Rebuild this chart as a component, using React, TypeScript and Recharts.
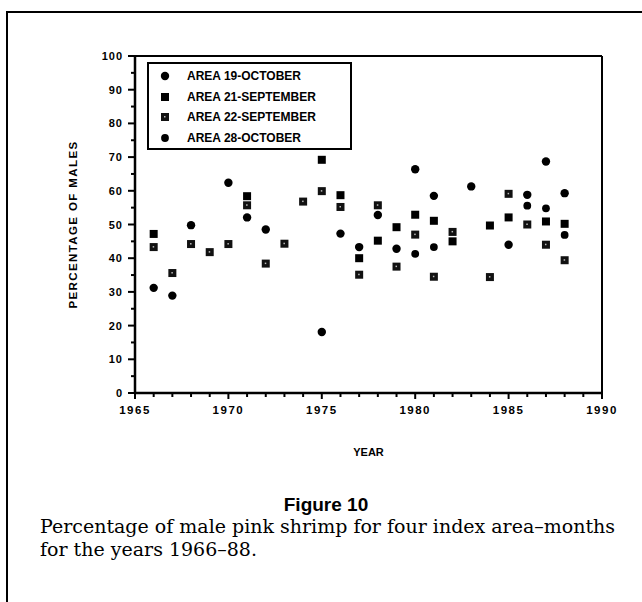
import {
  ScatterChart,
  Scatter,
  XAxis,
  YAxis,
  Legend,
  ReferenceLine,
  Label,
} from "recharts";

/* ===== data ===== */
const area19Years = [1966, 1967, 1968, 1970, 1971, 1972, 1975, 1976, 1977, 1978, 1979, 1980, 1981, 1983, 1985, 1986, 1987, 1988];
const area19Values = [31.2, 28.9, 49.8, 62.4, 52.1, 48.5, 18.1, 47.3, 43.3, 52.8, 42.8, 66.4, 58.5, 61.3, 44.0, 58.8, 68.7, 59.3];

const area21Years = [1966, 1971, 1975, 1976, 1977, 1978, 1979, 1980, 1981, 1982, 1984, 1985, 1987, 1988];
const area21Values = [47.2, 58.4, 69.2, 58.7, 40.0, 45.2, 49.2, 52.9, 51.1, 45.0, 49.7, 52.1, 50.9, 50.2];

const area22Years = [1966, 1967, 1968, 1969, 1970, 1971, 1972, 1973, 1974, 1975, 1976, 1977, 1978, 1979, 1980, 1981, 1982, 1984, 1985, 1986, 1987, 1988];
const area22Values = [43.3, 35.6, 44.2, 41.8, 44.2, 55.7, 38.4, 44.3, 56.8, 59.9, 55.2, 35.1, 55.7, 37.5, 47.0, 34.5, 47.8, 34.4, 59.1, 50.0, 44.0, 39.4];

const area28Years = [1980, 1981, 1986, 1987, 1988];
const area28Values = [41.3, 43.3, 55.6, 54.8, 46.9];

const yearTicks = Array.from({ length: 26 }, (_, i) => 1965 + i);
const pctTicks = Array.from({ length: 21 }, (_, i) => i * 5);

const toPoints = (years: number[], values: number[]) =>
  years.map((year, i) => ({ year, pct: values[i] }));

/* ===== symbols ===== */
const Dot = ({ cx, cy }: any) => <circle cx={cx} cy={cy} r={4.2} fill="#000" />;
const SmallDot = ({ cx, cy }: any) => <circle cx={cx} cy={cy} r={3.9} fill="#000" />;
const Box = ({ cx, cy }: any) => (
  <rect x={cx - 4} y={cy - 4} width={8} height={8} fill="#000" />
);
const HatchBox = ({ cx, cy }: any) => (
  <g>
    <rect x={cx - 4} y={cy - 4} width={8} height={8} fill="#111" />
    <rect x={cx - 1} y={cy - 1} width={1.5} height={1.5} fill="#bbb" />
  </g>
);

const series = [
  { name: "AREA 19-OCTOBER", data: toPoints(area19Years, area19Values), shape: Dot },
  { name: "AREA 21-SEPTEMBER", data: toPoints(area21Years, area21Values), shape: Box },
  { name: "AREA 22-SEPTEMBER", data: toPoints(area22Years, area22Values), shape: HatchBox },
  { name: "AREA 28-OCTOBER", data: toPoints(area28Years, area28Values), shape: SmallDot },
];

const FONT = "'Liberation Sans', Arial, sans-serif";

/* ===== ticks ===== */
const YearTick = ({ x, y, payload }: any) => {
  const major = payload.value % 5 === 0;
  return (
    <g>
      <line x1={x} x2={x} y1={y} y2={y + (major ? 6 : 4)} stroke="#000" strokeWidth={2} />
      {major && (
        <text x={x} y={y + 21} textAnchor="middle" fontFamily={FONT} fontWeight="bold"
          fontSize={11.5} letterSpacing={1.5} fill="#000">
          {payload.value}
        </text>
      )}
    </g>
  );
};

const PctTick = ({ x, y, payload }: any) => {
  const major = payload.value % 10 === 0;
  return (
    <g>
      <line x1={x - (major ? 7 : 4)} x2={x} y1={y} y2={y} stroke="#000" strokeWidth={2} />
      {major && (
        <text x={x - 12} y={y + 4} textAnchor="end" fontFamily={FONT} fontWeight="bold"
          fontSize={11} letterSpacing={1} fill="#000">
          {payload.value}
        </text>
      )}
    </g>
  );
};

/* ===== legend ===== */
const LegendBox = () => (
  <div style={{ border: "2px solid #000", width: 201, height: 84, position: "relative" }}>
    {series.map((s, i) => {
      const Shape = s.shape;
      return (
        <div key={s.name} style={{ position: "absolute", left: 0, top: 4 + i * 20.7, height: 16, display: "flex", alignItems: "center" }}>
          <svg width={36} height={16}>
            <Shape cx={16} cy={8} />
          </svg>
          <span style={{ fontFamily: FONT, fontWeight: "bold", fontSize: 12, marginLeft: 2, whiteSpace: "nowrap" }}>
            {s.name}
          </span>
        </div>
      );
    })}
  </div>
);

export default function App() {
  return (
    <div style={{ position: "absolute", left: 0, top: 0, width: 642, height: 602, background: "#fff", overflow: "hidden" }}>
      {/* outer figure frame */}
      <div style={{ position: "absolute", left: 6, top: 11, width: 640, height: 600, borderTop: "2px solid #000", borderLeft: "2px solid #000" }} />

      <ScatterChart width={642} height={602} margin={{ top: 56, right: 40, bottom: 139, left: 55 }}
        style={{ position: "absolute", left: 0, top: 0 }}>
        <XAxis
          dataKey="year"
          type="number"
          domain={[1965, 1990]}
          ticks={yearTicks}
          interval={0}
          height={70}
          tickSize={0}
          tickMargin={0}
          tickLine={false}
          tick={<YearTick />}
          axisLine={{ stroke: "#000", strokeWidth: 2.5 }}
        >
          <Label
            content={({ viewBox }: any) => (
              <text x={viewBox.x + viewBox.width / 2} y={viewBox.y + 63} textAnchor="middle"
                fontFamily={FONT} fontWeight="bold" fontSize={11} fill="#000">
                YEAR
              </text>
            )}
          />
        </XAxis>
        <YAxis
          dataKey="pct"
          type="number"
          domain={[0, 100]}
          ticks={pctTicks}
          interval={0}
          width={80}
          tickSize={0}
          tickMargin={0}
          tickLine={false}
          tick={<PctTick />}
          axisLine={{ stroke: "#000", strokeWidth: 2.5 }}
        >
          <Label
            content={({ viewBox }: any) => {
              const cx = viewBox.x + 22;
              const cy = viewBox.y + viewBox.height / 2;
              return (
                <text x={cx} y={cy} textAnchor="middle" transform={`rotate(-90 ${cx} ${cy})`}
                  fontFamily={FONT} fontWeight="bold" fontSize={11.5} letterSpacing={1.4} fill="#000">
                  PERCENTAGE OF MALES
                </text>
              );
            }}
          />
        </YAxis>
        <ReferenceLine y={100} stroke="#000" strokeWidth={2} />
        <ReferenceLine x={1990} stroke="#000" strokeWidth={2} />
        <Legend
          verticalAlign="middle"
          layout="horizontal"
          content={<LegendBox />}
          wrapperStyle={{ left: 147, top: 62, width: 205, height: 88 }}
        />
        {series.map((s) => (
          <Scatter key={s.name} name={s.name} data={s.data} shape={s.shape} fill="#000" isAnimationActive={false} />
        ))}
      </ScatterChart>

      <div style={{ position: "absolute", left: 0, width: 652, top: 494, textAlign: "center", fontFamily: FONT, fontWeight: "bold", fontSize: 19, lineHeight: "22px" }}>
        Figure 10
      </div>
      <div style={{ position: "absolute", left: 40, top: 515, fontFamily: "'DejaVu Serif', serif", fontSize: 19, lineHeight: "23px", whiteSpace: "nowrap" }}>
        Percentage of male pink shrimp for four index area–months
        <br />
        for the years 1966–88.
      </div>
    </div>
  );
}
